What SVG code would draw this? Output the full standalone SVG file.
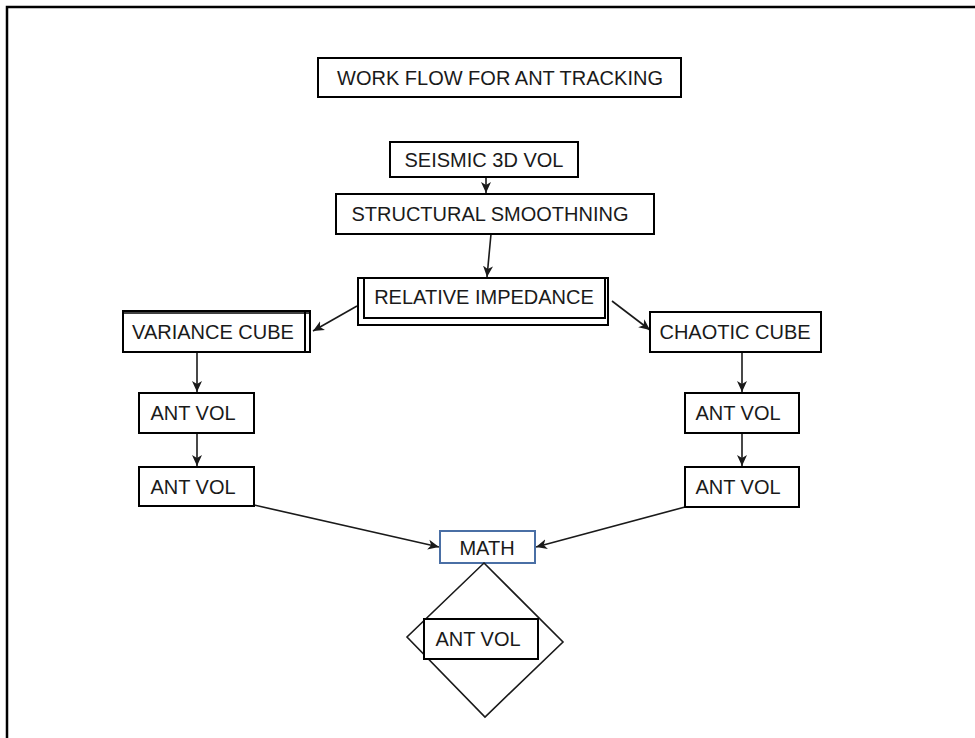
<svg xmlns="http://www.w3.org/2000/svg" width="975" height="738" viewBox="0 0 975 738">
<style>
.box{fill:#fff;stroke:#000;stroke-width:2}
.blue{fill:#fff;stroke:#4a6fa5;stroke-width:2}
.t{font-family:"Liberation Sans",Arial,sans-serif;font-size:20px;fill:#1a1a1a;text-anchor:middle}
.c{stroke:#1a1a1a;stroke-width:1.6;fill:none}
</style>
<defs>
<marker id="ah" markerUnits="userSpaceOnUse" markerWidth="12" markerHeight="12" viewBox="0 0 12 12" refX="11" refY="6" orient="auto">
<path d="M0,1 L11,6 L0,11 L3,6 z" fill="#1a1a1a"/>
</marker>
</defs>
<rect x="0" y="0" width="975" height="738" fill="#fff"/>
<g id="frame"><path d="M7,738 V7 H975" fill="none" stroke="#000" stroke-width="2.5"/></g>

<g id="connectors">
<line class="c" x1="486" y1="177" x2="486" y2="193" marker-end="url(#ah)"/>
<line class="c" x1="491" y1="234" x2="487" y2="277" marker-end="url(#ah)"/>
<line class="c" x1="357" y1="306" x2="313" y2="331" marker-end="url(#ah)"/>
<line class="c" x1="612" y1="301" x2="650" y2="330" marker-end="url(#ah)"/>
<line class="c" x1="197" y1="353" x2="197" y2="392" marker-end="url(#ah)"/>
<line class="c" x1="197" y1="433" x2="197" y2="466" marker-end="url(#ah)"/>
<line class="c" x1="742" y1="352" x2="742" y2="392" marker-end="url(#ah)"/>
<line class="c" x1="742" y1="433" x2="742" y2="466" marker-end="url(#ah)"/>
<line class="c" x1="254" y1="505" x2="439" y2="547" marker-end="url(#ah)"/>
<line class="c" x1="685" y1="507" x2="536" y2="547" marker-end="url(#ah)"/>
</g>

<g id="title"><rect class="box" x="318" y="58" width="363" height="39"/><text class="t" x="500" y="85">WORK FLOW FOR ANT TRACKING</text></g>
<g id="seismic"><rect class="box" x="390" y="142" width="188" height="35"/><text class="t" x="484" y="167">SEISMIC 3D VOL</text></g>
<g id="smoothing"><rect class="box" x="336" y="194" width="318" height="40"/><text class="t" x="490" y="221">STRUCTURAL SMOOTHNING</text></g>
<g id="impedance"><rect class="box" x="358" y="278" width="250" height="47"/><rect class="box" x="364" y="278" width="241" height="40"/><text class="t" x="484" y="304">RELATIVE IMPEDANCE</text></g>
<g id="variance"><rect class="box" x="123" y="311" width="187" height="41"/><line x1="305" y1="311" x2="305" y2="352" stroke="#000" stroke-width="2"/><line x1="123" y1="313" x2="310" y2="313" stroke="#000" stroke-width="1.5"/><text class="t" x="213" y="339">VARIANCE CUBE</text></g>
<g id="chaotic"><rect class="box" x="650" y="312" width="171" height="40"/><text class="t" x="735" y="339">CHAOTIC CUBE</text></g>
<g id="antvol-l1"><rect class="box" x="139" y="393" width="115" height="40"/><text class="t" x="193" y="420">ANT VOL</text></g>
<g id="antvol-l2"><rect class="box" x="139" y="467" width="115" height="39"/><text class="t" x="193" y="494">ANT VOL</text></g>
<g id="antvol-r1"><rect class="box" x="685" y="393" width="114" height="40"/><text class="t" x="738" y="420">ANT VOL</text></g>
<g id="antvol-r2"><rect class="box" x="685" y="467" width="114" height="40"/><text class="t" x="738" y="494">ANT VOL</text></g>
<g id="math"><rect class="blue" x="440" y="531" width="95" height="32"/><text class="t" x="487" y="555">MATH</text></g>
<g id="diamond"><polygon points="484,563 563,642 485,717 407,637" fill="none" stroke="#1a1a1a" stroke-width="1.6"/></g>
<g id="antvol-final"><rect class="box" x="424" y="619" width="114" height="40"/><text class="t" x="478" y="646">ANT VOL</text></g>
</svg>
